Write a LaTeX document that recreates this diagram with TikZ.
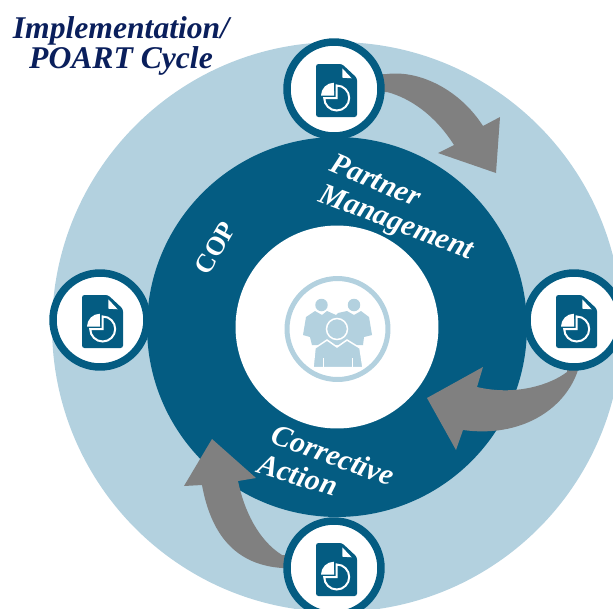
\documentclass[tikz,border=0pt]{standalone}
\usepackage{fontspec}
\setmainfont{Liberation Serif}
\usetikzlibrary{positioning}
\definecolor{ringblue}{HTML}{045C82}
\definecolor{paleblue}{HTML}{B3D1DF}
\definecolor{titlenavy}{HTML}{0A1F5C}
\definecolor{arrowgray}{HTML}{808080}
\tikzset{
  badge/.style={circle,draw=ringblue,line width=0.15cm,fill=white,minimum width=1.88cm,inner sep=0pt},
  blockarrow/.style={fill=arrowgray},
  ringtext/.style={text=white,inner sep=0pt,font=\bfseries\itshape\fontsize{17}{17}\selectfont},
  head/.style={circle,fill=paleblue,inner sep=0pt},
  docicon/.pic={
    \fill [ringblue,rounded corners=0.05cm] (-18,-25) -- (8,-25) -- (23,-11) -- (23,28) -- (-18,28) -- cycle;
    \fill [white] (8.3,-20.7) -- (17.7,-10.7) -- (8.3,-11.3) -- cycle;
    \fill [white] (0,6.7) -- (-13,6.7) arc (180:90:0.26cm) -- cycle;
    \draw [white,line width=0.04cm] (2.7,-3.5) arc (90:-180:0.25cm) -- (2.7,9) -- cycle;
  }
}

\begin{document}
\begin{tikzpicture}[x=0.02cm,y=-0.02cm]
            \useasboundingbox (0,0) rectangle (613,609);
            \clip (0,0) rectangle (613,609);

            % rings
            \node [circle,fill=paleblue,minimum width=11.4cm,inner sep=0pt] (outer) at (337,327) {};
            \node [circle,fill=ringblue,minimum width=7.6cm,inner sep=0pt] (middle) at (337,327) {};
            \node [circle,fill=white,minimum width=4.06cm,inner sep=0pt] (inner) at (337,327) {};

            % people
            \node [circle,draw=paleblue,line width=0.1cm,minimum width=2.02cm,inner sep=0pt] (people) at (337.5,329) {};
            \fill [paleblue] (315,311) -- (322,315) -- (327,311) -- (336,315) -- (338,313) -- (347,311) -- (354,315) -- (361,311) -- (369,317) -- (372,335) -- (364,337) -- (363,345) -- (312,345) -- (310,337) -- (303,335) -- (306,317) -- cycle;
            \node [head,minimum width=0.25cm] (headleft) at (321.5,305) {};
            \node [head,minimum width=0.25cm] (headright) at (354,305) {};
            \fill [paleblue,draw=white,line width=0.03cm] (313,367.5) -- (315,348) -- (327,340) -- (337,347) -- (347,340) -- (360,348) -- (363,367.5) -- cycle;
            \draw [white,line width=0.02cm] (323.3,358) -- (323.3,367) (352.3,358) -- (352.3,367);
            \node [head,draw=white,line width=0.03cm,minimum width=0.42cm] (headfront) at (337,329) {};

            % arrows
            \fill [blockarrow] (380,74) -- (387,74) .. controls (420,70) and (460,90) .. (483,126) -- (500,117) -- (496,173) -- (438,153) -- (454,145) .. controls (435,115) and (410,98) .. (387,92) -- (380,92) -- cycle;
            \fill [blockarrow] (578,365) -- (578,370) .. controls (565,410) and (520,438) .. (463,430) -- (456,450) -- (427,398) -- (483,367) -- (477,387) .. controls (515,396) and (550,385) .. (567,372) -- (567,365) -- cycle;
            \fill [blockarrow] (288,568) -- (282,568) .. controls (240,565) and (212,540) .. (202,485) -- (184,486) -- (212,439) -- (256,478) -- (238,481) .. controls (244,510) and (258,540) .. (282,555) -- (288,555) -- cycle;

            % badges
            \node [badge] (top) at (334,89) {};
            \node [badge] (right) at (574,320) {};
            \node [badge] (bottom) at (334,568) {};
            \node [badge] (left) at (100,320) {};
            \foreach \badgename in {top,right,bottom,left} {
                \path (\badgename) pic {docicon};
            }

            % labels
            \node [ringtext,font=\bfseries\fontsize{15}{15}\selectfont,rotate=60] (cop) at (215,248) {COP};
            \node [ringtext,rotate=-23] (partner) at (376,180) {Partner};
            \node [ringtext,rotate=-21] (management) at (396,224) {Management};
            \node [ringtext,rotate=-20] (corrective) at (333,455) {Corrective};
            \node [ringtext,rotate=-17] (action) at (298,475) {Action};

            \node [text=titlenavy,font=\bfseries\itshape\fontsize{18}{17}\selectfont,align=center] (title) at (121,46) {Implementation/\\POART Cycle};
        \end{tikzpicture}
\end{document}
